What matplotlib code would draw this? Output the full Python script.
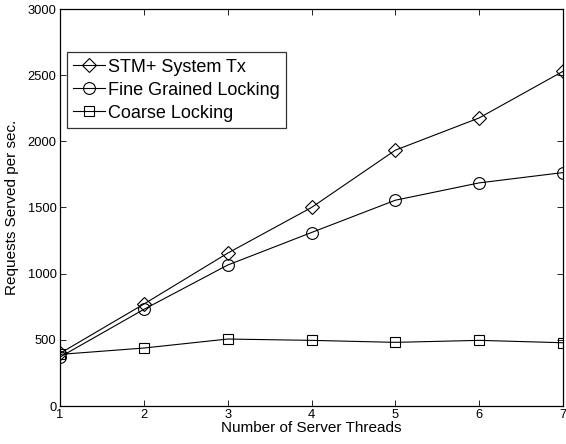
import matplotlib
matplotlib.use("Agg")
import matplotlib.pyplot as plt

plt.rcParams['font.family'] = ['Liberation Sans', 'DejaVu Sans']

threads = [1, 2, 3, 4, 5, 6, 7]
stm_tx = [398, 770, 1155, 1500, 1933, 2177, 2529]
fine_locking = [370, 730, 1065, 1311, 1555, 1686, 1764]
coarse_locking = [390, 438, 506, 496, 481, 496, 478]

fig = plt.figure(figsize=(5.66, 4.44), dpi=100)
ax = fig.add_axes([60 / 566, 1 - 406 / 444, 503 / 566, 397 / 444])

ax.plot(threads, stm_tx, color='black', lw=0.8, marker='D', markersize=7.5,
        markerfacecolor='none', markeredgewidth=0.8, label='STM+ System Tx')
ax.plot(threads, fine_locking, color='black', lw=0.8, marker='o', markersize=8.5,
        markerfacecolor='none', markeredgewidth=0.8, label='Fine Grained Locking')
ax.plot(threads, coarse_locking, color='black', lw=0.8, marker='s', markersize=6.5,
        markerfacecolor='none', markeredgewidth=0.8, label='Coarse Locking')

ax.set_xlim(1, 7)
ax.set_ylim(0, 3000)
ax.set_xticks(threads)
ax.set_yticks(range(0, 3001, 500))
ax.tick_params(direction='in', top=True, right=True, labelsize=9.3, length=4, width=0.6, pad=2.5)
for s in ax.spines.values():
    s.set_linewidth(0.9)

ax.set_xlabel('Number of Server Threads', fontsize=11, labelpad=0)
ax.set_ylabel('Requests Served per sec.', fontsize=11, labelpad=6)

leg = ax.legend(loc='upper left', bbox_to_anchor=(7 / 503, 1 - 43.5 / 397), fontsize=13,
                frameon=True, fancybox=False, edgecolor='black', handlelength=1.75,
                handletextpad=0.15, borderpad=0.35, labelspacing=0.33, borderaxespad=0)
leg.get_frame().set_linewidth(0.9)

fig.savefig('out.png', dpi=100)
